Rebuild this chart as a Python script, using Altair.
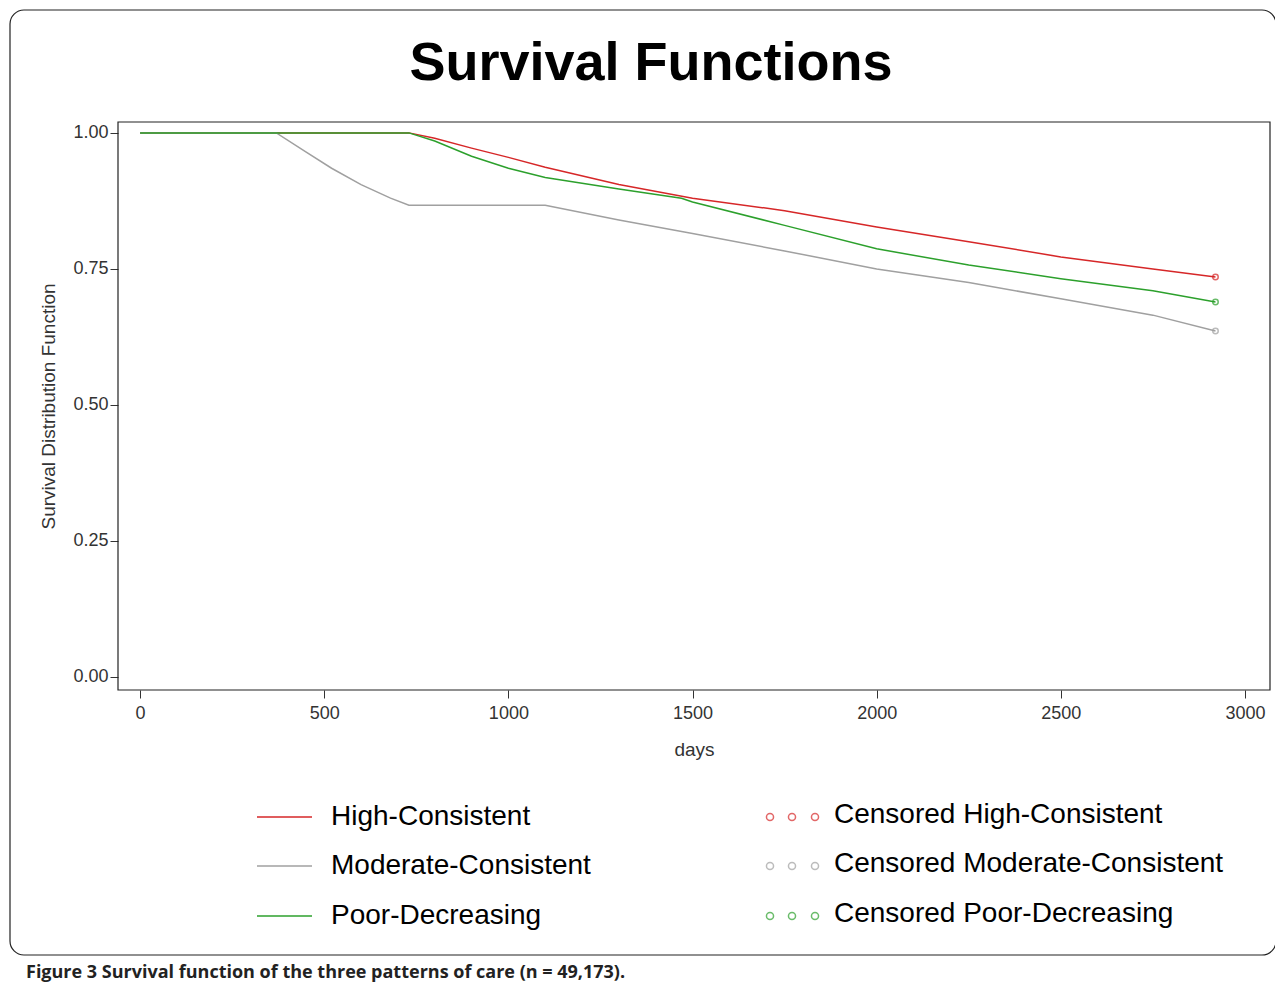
import altair as alt
import pandas as pd

high_x = [0, 730, 800, 900, 1000, 1100, 1300, 1500, 1750, 2000, 2250, 2500, 2750, 2920]
high_y = [1, 1, 0.99, 0.972, 0.955, 0.937, 0.905, 0.88, 0.857, 0.827, 0.80, 0.772, 0.75, 0.735]
mod_x = [0, 370, 450, 520, 600, 680, 730, 1100, 1300, 1500, 1750, 2000, 2250, 2500, 2750, 2920]
mod_y = [1, 1, 0.965, 0.935, 0.905, 0.88, 0.867, 0.867, 0.84, 0.815, 0.783, 0.75, 0.725, 0.695, 0.665, 0.636]
poor_x = [0, 730, 800, 900, 1000, 1100, 1300, 1470, 1500, 1750, 2000, 2250, 2500, 2750, 2920]
poor_y = [1, 1, 0.985, 0.957, 0.935, 0.918, 0.897, 0.88, 0.873, 0.83, 0.787, 0.757, 0.732, 0.71, 0.689]
groups = ["High-Consistent", "Moderate-Consistent", "Poor-Decreasing"]
colors = ["#d62728", "#a0a0a0", "#2ca02c"]

rows = []
for g, xs, ys in zip(groups, [high_x, mod_x, poor_x], [high_y, mod_y, poor_y]):
    for i, (a, b) in enumerate(zip(xs, ys)):
        rows.append({"g": g, "days": a, "s": b, "o": i})
df = pd.DataFrame(rows)
ends = df.sort_values("o").groupby("g").tail(1)

xs = alt.Scale(domain=[-60, 3068], nice=False, zero=False)
ys = alt.Scale(domain=[-0.024, 1.02], nice=False, zero=False)
cs = alt.Scale(domain=groups, range=colors)
F = "Liberation Sans"

lines = alt.Chart(df).mark_line(strokeWidth=1.5).encode(
    x=alt.X("days:Q", scale=xs, axis=alt.Axis(values=[0, 500, 1000, 1500, 2000, 2500, 3000], format="d", title="days",
            labelFontSize=18, titleFontSize=19, titleFontWeight="normal", labelColor="#333", titleColor="#333",
            grid=False, tickSize=8, titlePadding=18, labelPadding=6, domain=False)),
    y=alt.Y("s:Q", scale=ys, axis=alt.Axis(values=[0, 0.25, 0.5, 0.75, 1.0], format=".2f",
            title="Survival Distribution Function", labelFontSize=18, titleFontSize=19, titleFontWeight="normal",
            labelColor="#333", titleColor="#333", grid=False, tickSize=8, titlePadding=14, domain=False)),
    color=alt.Color("g:N", scale=cs, legend=None),
    order="o:Q",
)
pts = alt.Chart(ends).mark_point(shape="circle", size=30, filled=False, strokeWidth=1.5).encode(
    x=alt.X("days:Q", scale=xs), y=alt.Y("s:Q", scale=ys), color=alt.Color("g:N", scale=cs, legend=None))

W, H = 1152, 568
frame = alt.Chart(pd.DataFrame({"a": [0]})).mark_rect(fill=None, stroke="#222", strokeWidth=1.2).encode(
    x=alt.value(0), x2=alt.value(W), y=alt.value(0), y2=alt.value(H))
outer = alt.Chart(pd.DataFrame({"a": [0]})).mark_rect(fill=None, stroke="#222", strokeWidth=1.2, cornerRadius=14).encode(
    x=alt.value(-108), x2=alt.value(1158), y=alt.value(-112), y2=alt.value(833))

layers = [outer, lines, pts, frame]
title = alt.Chart(pd.DataFrame({"t": ["Survival Functions"]})).mark_text(
    font=F, fontSize=54, fontWeight="bold", align="center", baseline="middle").encode(
    text="t:N", x=alt.value(533), y=alt.value(-58))
layers.append(title)
cap = alt.Chart(pd.DataFrame({"t": ["Figure 3 Survival function of the three patterns of care (n = 49,173)."]})).mark_text(
    font="Open Sans", fontSize=18, fontWeight="bold", align="left", baseline="middle", color="#222").encode(
    text="t:N", x=alt.value(-92), y=alt.value(851))
layers.append(cap)

ly = [695, 744, 794]
for g, c, yy in zip(groups, colors, ly):
    layers.append(alt.Chart(pd.DataFrame({"a": [0]})).mark_rule(color=c, strokeWidth=1.5).encode(
        x=alt.value(139), x2=alt.value(194), y=alt.value(yy)))
    layers.append(alt.Chart(pd.DataFrame({"t": [g]})).mark_text(font=F, fontSize=28, align="left", baseline="middle").encode(
        text="t:N", x=alt.value(213), y=alt.value(yy)))
    for px in [652, 674, 697]:
        layers.append(alt.Chart(pd.DataFrame({"a": [0]})).mark_point(shape="circle", size=50, filled=False, color=c, strokeWidth=1.5).encode(
            x=alt.value(px), y=alt.value(yy)))
    layers.append(alt.Chart(pd.DataFrame({"t": ["Censored " + g]})).mark_text(font=F, fontSize=28, align="left", baseline="middle").encode(
        text="t:N", x=alt.value(716), y=alt.value(yy - 2)))

chart = alt.layer(*layers).properties(
    width=W, height=H, autosize=alt.AutoSizeParams(type="none"),
    padding={"left": 110, "top": 114, "right": 5, "bottom": 300},
).configure_view(stroke=None).configure_axis(labelFont=F, titleFont=F, tickColor="#333")

chart.save("out.html", embed_options={"renderer": "svg", "actions": False})
